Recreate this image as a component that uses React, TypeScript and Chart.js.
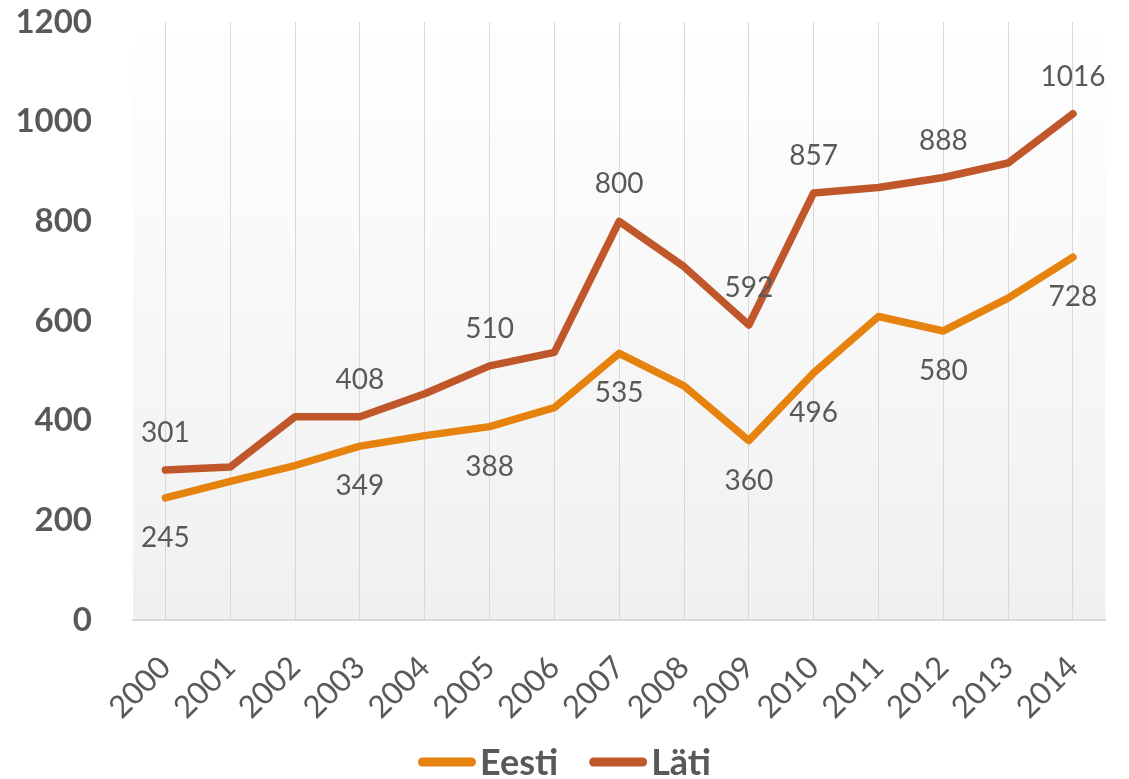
import React, { useEffect, useRef } from "react";
import { Chart, registerables } from "chart.js";

Chart.register(...registerables);

const years = ["2000","2001","2002","2003","2004","2005","2006","2007","2008","2009","2010","2011","2012","2013","2014"];
const eesti = [245, 278, 310, 349, 370, 388, 426, 535, 470, 360, 496, 609, 580, 646, 728];
const lati = [301, 307, 408, 408, 454, 510, 537, 800, 709, 592, 857, 868, 888, 917, 1016];
const eestiLabelIdx = [0, 3, 5, 7, 9, 10, 12, 14];
const latiLabelIdx = [0, 3, 5, 7, 9, 10, 12, 14];
const yTicks = [0, 200, 400, 600, 800, 1000, 1200];

const FONT = "Lato, 'Open Sans', sans-serif";
const TEXT = "#595959";

const bgPlugin = {
  id: "plotBg",
  beforeDraw(chart: any) {
    const { ctx, chartArea } = chart;
    if (!chartArea) return;
    const g = ctx.createLinearGradient(0, chartArea.top, 0, chartArea.bottom);
    g.addColorStop(0, "#ffffff");
    g.addColorStop(1, "#f0f0f0");
    ctx.save();
    ctx.fillStyle = g;
    ctx.fillRect(chartArea.left, chartArea.top, chartArea.right - chartArea.left, chartArea.bottom - chartArea.top);
    ctx.restore();
  },
};

const labelPlugin = {
  id: "valLabels",
  afterDatasetsDraw(chart: any) {
    const { ctx } = chart;
    ctx.save();
    ctx.font = `28px ${FONT}`;
    ctx.fillStyle = TEXT;
    ctx.textAlign = "center";
    ctx.textBaseline = "middle";
    const specs = [
      { ds: 0, idx: eestiLabelIdx, off: 40 },
      { ds: 1, idx: latiLabelIdx, off: -37 },
    ];
    specs.forEach((s) => {
      const meta = chart.getDatasetMeta(s.ds);
      const data = chart.data.datasets[s.ds].data;
      s.idx.forEach((i) => {
        const p = meta.data[i];
        ctx.fillText(String(data[i]), p.x, p.y + s.off);
      });
    });
    ctx.restore();
  },
};

const legendPlugin = {
  id: "customLegend",
  afterDraw(chart: any) {
    const { ctx } = chart;
    ctx.save();
    ctx.font = `bold 36px ${FONT}`;
    const lineLen = 49;
    const lw = 9;
    const markerW = lineLen + lw;
    const textGap = 4;
    const itemGap = 31;
    const items = chart.data.datasets.map((d: any) => ({
      label: d.label,
      color: d.borderColor,
      w: markerW + textGap + ctx.measureText(d.label).width,
    }));
    const total = items.reduce((a: number, it: any) => a + it.w, 0) + itemGap * (items.length - 1);
    let x = chart.width / 2 - total / 2;
    const lineY = 762;
    const baseY = 775;
    items.forEach((it: any) => {
      ctx.strokeStyle = it.color;
      ctx.lineWidth = lw;
      ctx.lineCap = "round";
      ctx.beginPath();
      ctx.moveTo(x + lw / 2, lineY);
      ctx.lineTo(x + lw / 2 + lineLen, lineY);
      ctx.stroke();
      ctx.fillStyle = TEXT;
      ctx.textAlign = "left";
      ctx.textBaseline = "alphabetic";
      ctx.fillText(it.label, x + markerW + textGap, baseY);
      x += it.w + itemGap;
    });
    ctx.restore();
  },
};

export default function App() {
  const ref = useRef<HTMLCanvasElement>(null);
  useEffect(() => {
    document.body.style.margin = "0";
    const chart = new Chart(ref.current!, {
      type: "line",
      data: {
        labels: years,
        datasets: [
          {
            label: "Eesti",
            data: eesti,
            borderColor: "#E6830F",
            backgroundColor: "#E6830F",
            borderWidth: 7.5,
            pointRadius: 0,
            borderCapStyle: "round",
            borderJoinStyle: "round",
            tension: 0,
          },
          {
            label: "Läti",
            data: lati,
            borderColor: "#C0572B",
            backgroundColor: "#C0572B",
            borderWidth: 7.5,
            pointRadius: 0,
            borderCapStyle: "round",
            borderJoinStyle: "round",
            tension: 0,
          },
        ],
      },
      options: {
        animation: false,
        responsive: false,
        maintainAspectRatio: false,
        layout: { padding: { top: 22, right: 22, left: 0, bottom: 45 } },
        plugins: {
          legend: { display: false },
          tooltip: { enabled: false },
        },
        scales: {
          x: {
            offset: true,
            grid: { offset: false, color: "#d9d9d9", lineWidth: 1, drawTicks: false },
            border: { color: "#d9d9d9", width: 2 },
            ticks: {
              color: TEXT,
              font: { family: FONT, size: 31 },
              minRotation: 45,
              maxRotation: 45,
              padding: 29,
            },
            afterFit(axis: any) {
              axis.height = 114;
            },
          },
          y: {
            min: 0,
            max: 1200,
            afterBuildTicks(axis: any) {
              axis.ticks = yTicks.map((v) => ({ value: v }));
            },
            grid: { display: false },
            border: { display: false },
            ticks: {
              color: TEXT,
              font: { family: FONT, size: 33, weight: "bold" },
              padding: 33,
              callback: (v: any) => String(v),
            },
            afterFit(axis: any) {
              axis.width = 133;
              axis.paddingTop = 20;
              axis.paddingBottom = 20;
            },
          },
        },
      },
      plugins: [bgPlugin, labelPlugin, legendPlugin],
    });
    return () => chart.destroy();
  }, []);
  return (
    <div style={{ width: 1129, height: 779 }}>
      <canvas ref={ref} width={1129} height={779} style={{ display: "block" }} />
    </div>
  );
}
